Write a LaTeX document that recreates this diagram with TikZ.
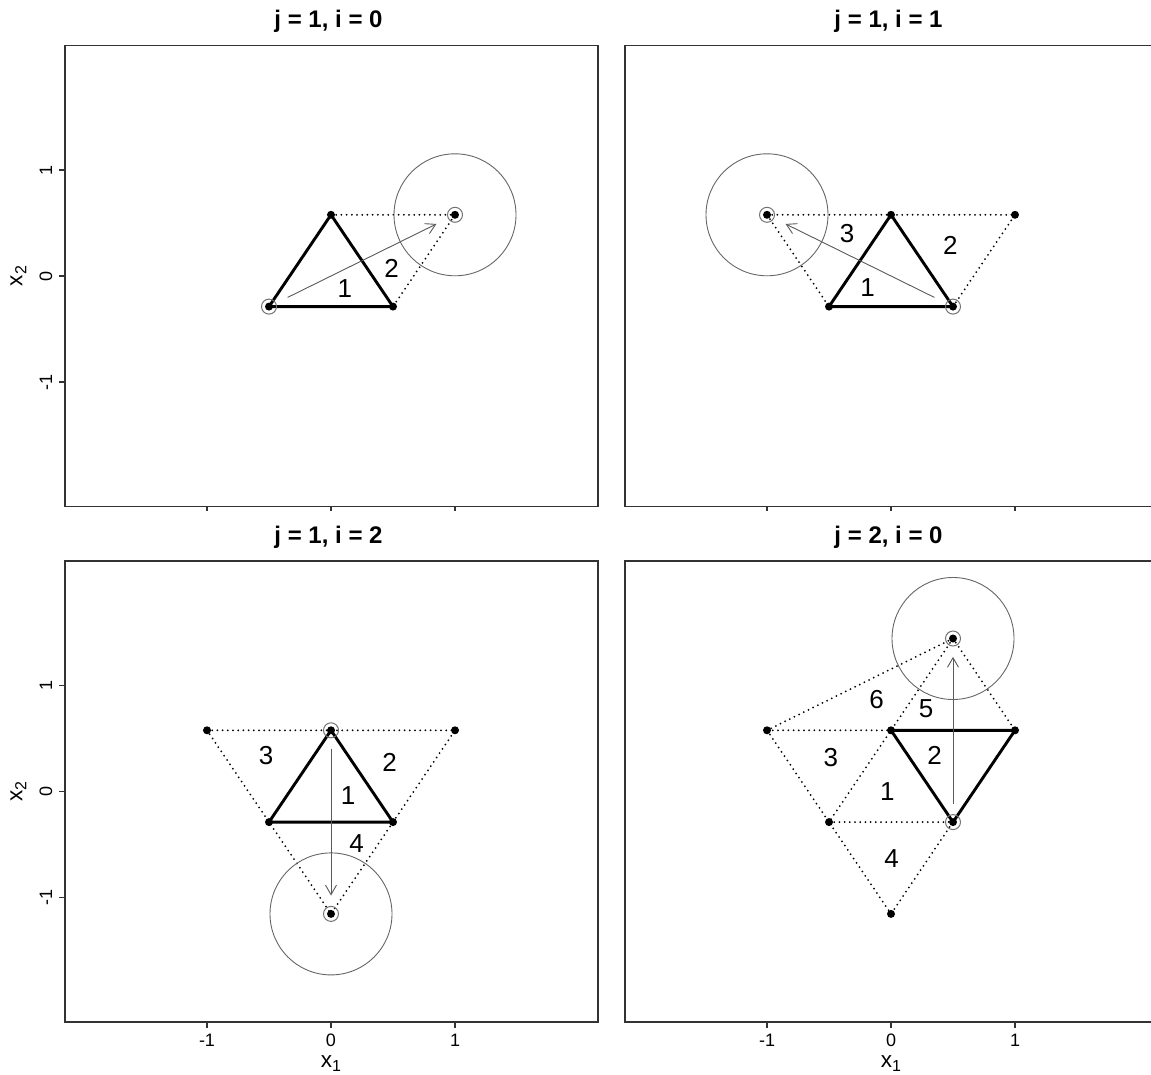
\documentclass[tikz,border=0pt]{standalone}
\usepackage{fontspec}
\setmainfont{Liberation Sans}
\usetikzlibrary{arrows.meta,calc}
\definecolor{ringgray}{gray}{0.45}
\definecolor{circgray}{gray}{0.4}
\definecolor{arrgray}{gray}{0.35}
\newcommand\mkpts[1]{%
 \coordinate (#1A) at (-0.5,-0.288675);
 \coordinate (#1B) at (0,0.57735);
 \coordinate (#1C) at (0.5,-0.288675);
 \coordinate (#1D) at (1,0.57735);
 \coordinate (#1E) at (-1,0.57735);
 \coordinate (#1F) at (0,-1.154701);
 \coordinate (#1G) at (0.5,1.443376);}
\tikzset{
 frame/.style={line width=1.3pt, draw=black!80},
 tri/.style={line width=2.9pt, line join=round},
 dotl/.style={line width=2pt, line cap=round, dash pattern=on 0pt off 5.2pt},
 pt/.style={circle, fill=black, inner sep=0pt, minimum size=8pt},
 ring/.style={circle, draw=ringgray, line width=1pt, inner sep=0pt, minimum size=15pt},
 bigc/.style={circle, draw=circgray, line width=0.9pt, inner sep=0pt, minimum size=122pt},
 arr/.style={draw=arrgray, line width=0.9pt, -{Straight Barb[angle=60:11pt]}},
 ttl/.style={font=\fontsize{24}{24}\selectfont\bfseries, anchor=base},
 num/.style={font=\fontsize{26}{26}\selectfont, inner sep=0pt},
 tickl/.style={font=\fontsize{18}{18}\selectfont, inner sep=0pt},
 axl/.style={font=\fontsize{22.5}{22.5}\selectfont, inner sep=0pt, anchor=base},
}
\newcommand\xsub[2]{#1\raisebox{-4pt}{\fontsize{16}{16}\selectfont #2}}
\begin{document}
\begin{tikzpicture}
\useasboundingbox (0,0) rectangle (1151pt,-1075pt);

% ---------------- top left: j=1, i=0
\begin{scope}[shift={(331pt,-276pt)}, x=124pt, y=106pt]
 \mkpts{tl}
 \draw[frame] (-2.145,-2.175) rectangle (2.153,2.175);
 \foreach \v in {-1,0,1} {
   \draw[frame] (-2.145,\v) -- ++(-6pt,0);
   \node[tickl, rotate=90] (tlty\v) at (-2.298,\v) {\v};
   \draw[frame] (\v,-2.175) -- ++(0,-4pt);
 }
 \node[axl, rotate=90, anchor=center] (tlxl) at (-2.52,0) {\xsub{x}{2}};
 \node[ttl] (tltitle) at (-0.02,2.34) {j = 1, i = 0};
 \draw[dotl] (tlB) -- (tlD) -- (tlC);
 \draw[tri] (tlA) -- (tlB) -- (tlC) -- cycle;
 \draw[arr] ($(tlA)!0.1!(tlD)$) -- ($(tlA)!0.9!(tlD)$);
 \node[bigc] (tlcirc) at (tlD) {};
 \node[ring] (tlrA) at (tlA) {};
 \node[ring] (tlrD) at (tlD) {};
 \foreach \p in {A,B,C,D} \node[pt] (tlp\p) at (tl\p) {};
 \node[num] (tln1) at (0.112,-0.116) {1};
 \node[num] (tln2) at (0.489,0.072) {2};
\end{scope}

% ---------------- top right: j=1, i=1
\begin{scope}[shift={(891pt,-276pt)}, x=124pt, y=106pt]
 \mkpts{tr}
 \draw[frame] (2.097,2.175) -- (-2.145,2.175) -- (-2.145,-2.175) -- (2.097,-2.175);
 \foreach \v in {-1,0,1} {
   \draw[frame] (\v,-2.175) -- ++(0,-4pt);
 }
 \node[ttl] (trtitle) at (-0.02,2.34) {j = 1, i = 1};
 \draw[dotl] (trE) -- (trB) -- (trD) -- (trC);
 \draw[dotl] (trE) -- (trA);
 \draw[tri] (trA) -- (trB) -- (trC) -- cycle;
 \draw[arr] ($(trC)!0.1!(trE)$) -- ($(trC)!0.9!(trE)$);
 \node[bigc] (trcirc) at (trE) {};
 \node[ring] (trrC) at (trC) {};
 \node[ring] (trrE) at (trE) {};
 \foreach \p in {A,B,C,D,E} \node[pt] (trp\p) at (tr\p) {};
 \node[num] (trn3) at (-0.355,0.396) {3};
 \node[num] (trn2) at (0.478,0.29) {2};
 \node[num] (trn1) at (-0.188,-0.108) {1};
\end{scope}

% ---------------- bottom left: j=1, i=2
\begin{scope}[shift={(331pt,-791.5pt)}, x=124pt, y=106pt]
 \mkpts{bl}
 \draw[frame] (-2.145,-2.175) rectangle (2.153,2.175);
 \foreach \v in {-1,0,1} {
   \draw[frame] (-2.145,\v) -- ++(-6pt,0);
   \node[tickl, rotate=90] (blty\v) at (-2.298,\v) {\v};
   \draw[frame] (\v,-2.175) -- ++(0,-6pt);
   \node[tickl] (bltx\v) at (\v,-2.344) {\v};
 }
 \node[axl, rotate=90, anchor=center] (blyl) at (-2.52,0) {\xsub{x}{2}};
 \node[axl] (blxl) at (0,-2.604) {\xsub{x}{1}};
 \node[ttl] (bltitle) at (-0.02,2.335) {j = 1, i = 2};
 \draw[dotl] (blE) -- (blB) -- (blD) -- (blC) -- (blF) -- (blA) -- (blE);
 \draw[tri] (blA) -- (blB) -- (blC) -- cycle;
 \draw[arr] ($(blB)!0.1!(blF)$) -- ($(blB)!0.9!(blF)$);
 \node[bigc] (blcirc) at (blF) {};
 \node[ring] (blrB) at (blB) {};
 \node[ring] (blrF) at (blF) {};
 \foreach \p in {A,B,C,D,E,F} \node[pt] (blp\p) at (bl\p) {};
 \node[num] (bln3) at (-0.523,0.339) {3};
 \node[num] (bln2) at (0.472,0.278) {2};
 \node[num] (bln1) at (0.137,-0.038) {1};
 \node[num] (bln4) at (0.207,-0.49) {4};
\end{scope}

% ---------------- bottom right: j=2, i=0
\begin{scope}[shift={(891pt,-791.5pt)}, x=124pt, y=106pt]
 \mkpts{br}
 \draw[frame] (2.097,2.175) -- (-2.145,2.175) -- (-2.145,-2.175) -- (2.097,-2.175);
 \foreach \v in {-1,0,1} {
   \draw[frame] (\v,-2.175) -- ++(0,-6pt);
   \node[tickl] (brtx\v) at (\v,-2.344) {\v};
 }
 \node[axl] (brxl) at (0,-2.604) {\xsub{x}{1}};
 \node[ttl] (brtitle) at (-0.02,2.335) {j = 2, i = 0};
 \draw[dotl] (brG) -- (brE) -- (brB) -- (brG) -- (brD);
 \draw[dotl] (brE) -- (brA) -- (brB);
 \draw[dotl] (brA) -- (brC) -- (brF) -- (brA);
 \draw[tri] (brB) -- (brD) -- (brC) -- cycle;
 \draw[arr] ($(brC)!0.1!(brG)$) -- ($(brC)!0.9!(brG)$);
 \node[bigc] (brcirc) at (brG) {};
 \node[ring] (brrC) at (brC) {};
 \node[ring] (brrG) at (brG) {};
 \foreach \p in {A,B,C,D,E,F,G} \node[pt] (brp\p) at (br\p) {};
 \node[num] (brn6) at (-0.117,0.87) {6};
 \node[num] (brn5) at (0.283,0.786) {5};
 \node[num] (brn3) at (-0.485,0.322) {3};
 \node[num] (brn2) at (0.351,0.345) {2};
 \node[num] (brn1) at (-0.029,0.001) {1};
 \node[num] (brn4) at (0.005,-0.63) {4};
\end{scope}
\end{tikzpicture}
\end{document}
